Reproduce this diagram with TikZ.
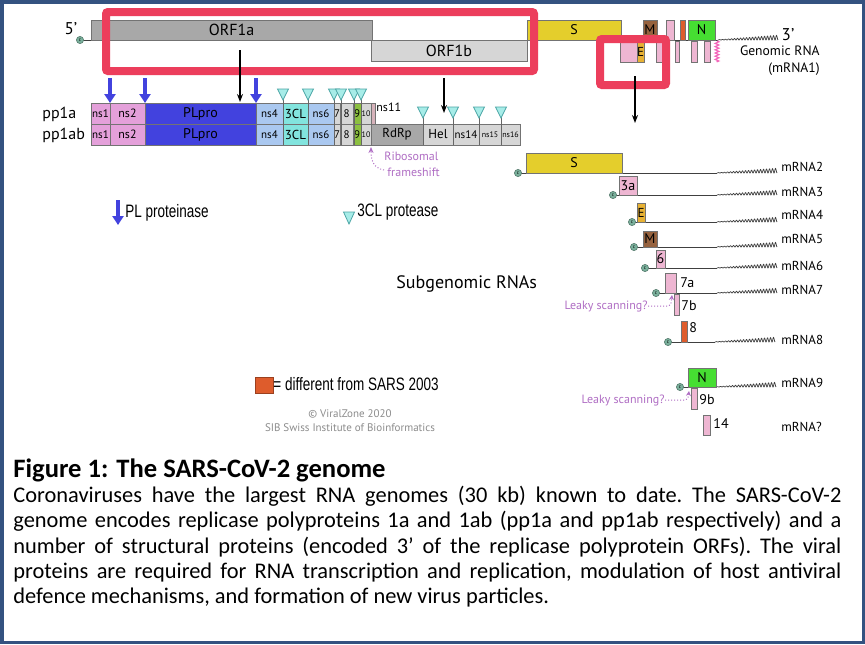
\documentclass[tikz,border=0pt]{standalone}
\usepackage{fontspec}
\setmainfont{PT Sans}
\newfontfamily\capfont{Carlito}
\newfontfamily\narrowfont[FakeStretch=0.75]{Liberation Sans}
\usetikzlibrary{fit, arrows.meta, decorations.pathmorphing}
\definecolor{orfgray}{RGB}{168, 168, 168}
\definecolor{lightgray}{RGB}{214, 214, 214}
\definecolor{spikeyel}{RGB}{228, 206, 44}
\definecolor{envorange}{RGB}{232, 178, 52}
\definecolor{membrown}{RGB}{150, 98, 62}
\definecolor{accpink}{RGB}{238, 182, 210}
\definecolor{nucgreen}{RGB}{70, 222, 50}
\definecolor{newred}{RGB}{222, 92, 44}
\definecolor{nsmag}{RGB}{228, 160, 218}
\definecolor{plblue}{RGB}{66, 66, 222}
\definecolor{nsblue}{RGB}{170, 200, 240}
\definecolor{clcyan}{RGB}{130, 228, 222}
\definecolor{ninegreen}{RGB}{140, 192, 64}
\definecolor{elevpink}{RGB}{214, 178, 186}
\definecolor{capteal}{RGB}{122, 176, 156}
\definecolor{notepurple}{RGB}{176, 110, 196}
\definecolor{hired}{RGB}{236, 62, 92}
\definecolor{framecol}{RGB}{52, 82, 128}
\newcommand{\fsz}[1]{\fontsize{#1}{#1}\selectfont}
\tikzset{
  seg/.style={draw=black!55, line width=0.35pt, inner sep=0pt},
  lbl/.style={inner sep=0pt, font=\fsz{7}},
  nslbl/.style={inner sep=0pt, font=\fsz{5.5}},
  tinylbl/.style={inner sep=0pt, font=\fsz{4}},
  rna/.style={line width=0.45pt, draw=black!75},
  polytail/.style={line width=0.35pt, draw=black!75},
  capc/.style={circle, fill=capteal, draw=capteal!70!black, line width=0.3pt,
               minimum size=3.6pt, inner sep=0pt, font=\fsz{2.5}},
  mlbl/.style={inner sep=0pt, anchor=west, font=\fsz{6.5}},
  notelbl/.style={inner sep=0pt, text=notepurple, font=\fsz{6}},
  notepath/.style={draw=notepurple, densely dotted, line width=0.5pt},
  flow/.style={-{Stealth[length=4pt, width=3pt]}, line width=0.6pt},
  plcut/.style={-{Triangle[length=4.5pt, width=5.5pt]}, line width=2pt, draw=plblue},
  cltri/.style={fill=clcyan!70, draw=teal!70, line width=0.4pt},
  clline/.style={draw=black!60, line width=0.4pt},
  hilite/.style={draw=hired, line width=4pt, rounded corners=1pt, inner sep=0pt},
  keylbl/.style={inner sep=0pt, anchor=west, font=\narrowfont\fsz{9}},
}
% gene box: name, fill, corner, corner, label style, label
\newcommand{\gbox}[6]{\node[seg, fill=#2, fit={(#3)(#4)},
  label={[#5]center:#6}] (#1) {};}
% 3CL cleavage site: x, top of triangle
\newcommand{\clsite}[2]{%
  \draw[clline] (#1,#2+10) -- (#1,145);
  \draw[cltri] (#1-5.5,#2) -- (#1+5.5,#2) -- (#1,#2+11) -- cycle;}
% poly-A tail: x, y, length
\newcommand{\polyA}[3]{\draw[polytail] plot[domain=0:#3, samples=240]
  ({#1+\x}, {#2-(0.3+0.075*\x)*(0.5-0.5*cos(\x*120))});}

\begin{document}
\begin{tikzpicture}[x=0.5pt, y=-0.5pt]
  \useasboundingbox (0,0) rectangle (865,644);
  \fill[white] (0,0) rectangle (865,644);

  % genomic RNA
  \coordinate (g5) at (80,40);
  \coordinate (g3) at (718,40);
  \draw[rna] (g5) -- (g3);
  \polyA{718}{40}{60}
  \gbox{orf1a}{orfgray}{91,20}{372,40}{lbl, font=\fsz{8}}{ORF1a}
  \gbox{orf1b}{lightgray}{371,40}{527,61}{lbl, font=\fsz{8}}{ORF1b}
  \gbox{gs}{spikeyel}{527,20}{621,40}{lbl}{S}
  \gbox{g3a}{accpink}{620,41}{640,62}{lbl}{}
  \gbox{ge}{envorange}{637,41}{644,62}{lbl, font=\fsz{6.5}}{E}
  \gbox{gm}{membrown}{643,20}{657,40}{lbl}{M}
  \gbox{g6}{accpink}{656,41}{662,62}{lbl}{}
  \gbox{g7a}{accpink}{666,20}{674,40}{lbl}{}
  \gbox{g7b}{accpink}{675,41}{679,62}{lbl}{}
  \gbox{g8}{newred}{680,20}{685,40}{lbl}{}
  \gbox{gn}{nucgreen}{688,20}{715,40}{lbl}{N}
  \gbox{g9b}{accpink}{691,41}{697,62}{lbl}{}
  \gbox{g14}{accpink}{704,41}{710,62}{lbl}{}
  \draw[draw=magenta!60, line width=0.6pt, decorate,
        decoration={zigzag, segment length=1.6pt, amplitude=0.9pt}] (717,41) -- (717,62);
  \node[capc] (cap1) at (g5) {c};
  \node[lbl, font=\fsz{8.5}] (t5) at (71,29) {5’};
  \node[lbl, font=\fsz{8.5}] (t3) at (788,35) {3’};
  \node[lbl, anchor=east, font=\fsz{6.8}] (tgen) at (820,51) {Genomic RNA};
  \node[lbl, anchor=east, font=\fsz{6.8}] (tmrna1) at (820,69) {(mRNA1)};

  % polyproteins
  \node[lbl, anchor=west, font=\fsz{8}] (tpp1a) at (42,114) {pp1a};
  \node[lbl, anchor=west, font=\fsz{8}] (tpp1ab) at (42,135) {pp1ab};
  \foreach \r/\top/\bot in {a/103/124, b/124/145} {
    \gbox{\r1}{nsmag}{91,\top}{110,\bot}{nslbl}{ns1}
    \gbox{\r2}{nsmag}{110,\top}{145,\bot}{nslbl, font=\fsz{6}}{ns2}
    \gbox{\r3}{plblue}{145,\top}{256,\bot}{lbl}{PLpro}
    \gbox{\r4}{nsblue}{256,\top}{283,\bot}{nslbl}{ns4}
    \gbox{\r5}{clcyan}{283,\top}{308,\bot}{lbl, font=\fsz{6.5}}{3CL}
    \gbox{\r6}{nsblue}{308,\top}{334,\bot}{nslbl}{ns6}
    \gbox{\r7}{lightgray}{334,\top}{340,\bot}{nslbl}{7}
    \gbox{\r8}{lightgray}{340,\top}{353,\bot}{nslbl}{8}
    \gbox{\r9}{ninegreen}{353,\top}{361,\bot}{nslbl}{9}
    \gbox{\r10}{lightgray}{361,\top}{371,\bot}{tinylbl}{10}
  }
  \gbox{a11}{elevpink}{371,103}{375,124}{tinylbl}{}
  \node[nslbl, font=\fsz{6}, anchor=west] (tns11) at (376,107) {ns11};
  \gbox{b12}{orfgray}{371,124}{423,145}{lbl, font=\fsz{6.5}}{RdRp}
  \gbox{b13}{lightgray}{423,124}{453,145}{lbl, font=\fsz{6.5}}{Hel}
  \gbox{b14}{lightgray}{453,124}{479,145}{nslbl}{ns14}
  \gbox{b15}{lightgray}{479,124}{501,145}{tinylbl}{ns15}
  \gbox{b16}{lightgray}{501,124}{520,145}{tinylbl}{ns16}

  % cleavage sites
  \foreach \cx in {110,145,256} \draw[plcut] (\cx,78) -- (\cx,103);
  \foreach \cx in {283,308,334,341,354,361} {\clsite{\cx}{89}}
  \foreach \cx in {423,453,479,501} {\clsite{\cx}{107}}

  % ribosomal frameshift
  \coordinate (fsstart) at (384,170);
  \coordinate (fsend) at (371,147);
  \draw[notepath, -{Stealth[length=3pt, width=2.5pt]}]
    (fsstart) .. controls (373,168) and (371,160) .. (fsend);
  \node[notelbl, anchor=west] (tribo) at (384,156) {Ribosomal};
  \node[notelbl, anchor=west] (tframe) at (387,172) {frameshift};

  % legend
  \coordinate (pltop) at (118,200);
  \coordinate (plbot) at (118,225);
  \draw[plcut] (pltop) -- (plbot);
  \node[keylbl] (tpl) at (125,213) {PL proteinase};
  \draw[cltri] (343.5,212) -- (354.5,212) -- (349,224) -- cycle;
  \node[keylbl] (tcl) at (357,212) {3CL protease};
  \node[lbl, anchor=west, font=\fsz{9}] (tsub) at (396,284) {Subgenomic RNAs};
  \node[seg, fill=newred, draw=newred!70!black, fit={(255,377)(273,393)}] (legsq) {};
  \node[keylbl] (tdiff) at (273,384) {= different from SARS 2003};
  \node[lbl, text=black!45, font=\fsz{5.5}] (tvz) at (350,414) {\textcopyright{} ViralZone 2020};
  \node[lbl, text=black!45, font=\fsz{5.5}] (tsib) at (350,428) {SIB Swiss Institute of Bioinformatics};

  % subgenomic mRNAs
  \foreach \i/\cx/\cy/\ex/\ly in {2/518/173/717/167, 3/613/195/717/192, 4/632/222/717/215,
      5/634/247/717/239, 6/645/268/717/266, 7/656/293/717/290, 8/668/342/715/340,
      9/680/387/716/383} {
    \draw[rna] (\cx,\cy) coordinate (r\i a) -- (\ex,\cy) coordinate (r\i b);
    \polyA{\ex}{\cy}{60}
    \node[capc] (c\i) at (r\i a) {c};
    \node[mlbl] (m\i) at (781,\ly) {mRNA\i};
  }
  \gbox{s2}{spikeyel}{526,153}{622,173}{lbl}{S}
  \gbox{s3}{accpink}{619,176}{637,195}{lbl}{3a}
  \gbox{s4}{envorange}{637,203}{645,222}{lbl, font=\fsz{6.5}}{E}
  \gbox{s5}{membrown}{643,231}{657,247}{lbl}{M}
  \gbox{s6}{accpink}{656,250}{665,268}{lbl}{6}
  \gbox{s7a}{accpink}{665,273}{676,293}{lbl}{}
  \gbox{s7b}{accpink}{674,294}{679,315}{lbl}{}
  \gbox{s8}{newred}{681,321}{687,342}{lbl}{}
  \gbox{s9}{nucgreen}{688,368}{716,387}{lbl}{N}
  \gbox{s9b}{accpink}{691,388}{697,409}{lbl}{}
  \gbox{s14}{accpink}{703,415}{710,435}{lbl}{}
  \node[lbl, anchor=west] (t7a) at (680,283) {7a};
  \node[lbl, anchor=west] (t7b) at (681,306) {7b};
  \node[lbl, anchor=west] (t8) at (689,328) {8};
  \node[lbl, anchor=west] (t9b) at (699,400) {9b};
  \node[lbl, anchor=west] (t14) at (713,424) {14};
  \node[mlbl] (mq) at (781,427) {mRNA?};

  % leaky scanning
  \node[notelbl, anchor=east] (lk7) at (648,306) {Leaky scanning?};
  \coordinate (k7) at (672,295);
  \draw[notepath, -{Stealth[length=2.5pt, width=2.5pt]}]
    (lk7.east) -- (667,306) .. controls (671,305) .. (k7);
  \node[notelbl, anchor=east] (lk9) at (665,400) {Leaky scanning?};
  \coordinate (k9) at (689,391);
  \draw[notepath, -{Stealth[length=2.5pt, width=2.5pt]}]
    (lk9.east) -- (684,400) .. controls (688,399) .. (k9);

  % highlights and arrows
  \node[hilite, fit={(106,12)(534,71)}] (hl1) {};
  \node[hilite, fit={(600,39)(666,85)}] (hl2) {};
  \coordinate (a1s) at (240,50);
  \coordinate (a1e) at (240,102);
  \coordinate (a2s) at (444,78);
  \coordinate (a2e) at (444,113);
  \coordinate (a3s) at (635,76);
  \coordinate (a3e) at (635,123);
  \draw[flow] (a1s) -- (a1e);
  \draw[flow] (a2s) -- (a2e);
  \draw[flow] (a3s) -- (a3e);

  % caption
  \node[anchor=west, inner sep=0pt, font=\capfont\bfseries\fsz{13.3}] (ttitle) at (13,470)
    {Figure 1: The SARS-CoV-2 genome};
  \node[anchor=north west, inner sep=0pt, align=left,
        font=\capfont\fontsize{11.2}{12.55}\selectfont\frenchspacing] (tbody) at (13,486) {%
    \makebox[414pt][s]{Coronaviruses have the largest RNA genomes (30 kb) known to date. The SARS-CoV-2}\\
    \makebox[414pt][s]{genome encodes replicase polyproteins 1a and 1ab (pp1a and pp1ab respectively) and a}\\
    \makebox[414pt][s]{number of structural proteins (encoded 3’ of the replicase polyprotein ORFs). The viral}\\
    \makebox[414pt][s]{proteins are required for RNA transcription and replication, modulation of host antiviral}\\
    defence mechanisms, and formation of new virus particles.};

  \draw[draw=framecol, line width=1.75pt] (1.75,1.75) rectangle (863.25,642.25);
\end{tikzpicture}
\end{document}
